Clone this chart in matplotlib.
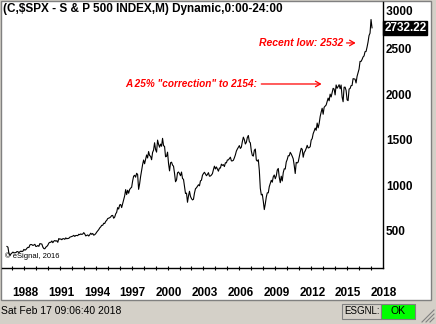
import numpy as np
import matplotlib
matplotlib.use("Agg")
import matplotlib.pyplot as plt
from matplotlib.patches import Rectangle
from matplotlib.lines import Line2D

# S&P 500 monthly closes, Aug 1987 .. Feb 2018
start_year, start_month = 1987, 8
closes_1980s = [329.8, 321.8, 251.8, 230.3, 247.1,
                257.1, 267.8, 258.9, 261.3, 262.2, 273.5, 272.0, 261.5, 271.9, 278.9, 273.7, 277.7,
                297.5, 288.9, 294.9, 309.6, 320.5, 317.9, 346.1, 351.5, 349.2, 340.4, 346.0, 353.4]
closes_1990s = [329.1, 331.9, 339.9, 330.8, 361.2, 358.0, 356.2, 322.6, 306.1, 304.0, 322.2, 330.2,
                343.9, 367.1, 375.2, 375.3, 389.8, 371.2, 387.8, 395.4, 387.9, 392.5, 375.2, 417.1,
                408.8, 412.7, 403.7, 414.9, 415.4, 408.1, 424.2, 414.0, 417.8, 418.7, 431.4, 435.7,
                438.8, 443.4, 451.7, 440.2, 450.2, 450.5, 448.1, 463.6, 458.9, 467.8, 461.8, 466.5,
                481.6, 467.1, 445.8, 450.9, 456.5, 444.3, 458.3, 475.5, 462.7, 472.4, 453.7, 459.3,
                470.4, 487.4, 500.7, 514.7, 533.4, 544.8, 562.1, 561.9, 584.4, 581.5, 605.4, 615.9,
                636.0, 640.4, 645.5, 654.2, 669.1, 670.6, 639.9, 652.0, 687.3, 705.3, 757.0, 740.7,
                786.2, 790.8, 757.1, 801.3, 848.3, 885.1, 954.3, 899.5, 947.3, 914.6, 955.4, 970.4,
                980.3, 1049.3, 1101.8, 1111.8, 1090.8, 1133.8, 1120.7, 957.3, 1017.0, 1098.7, 1163.6, 1229.2,
                1279.6, 1238.3, 1286.4, 1335.2, 1301.8, 1372.7, 1328.7, 1320.4, 1282.7, 1362.9, 1388.9, 1469.3]
closes_2000s = [1394.5, 1366.4, 1498.6, 1452.4, 1420.6, 1454.6, 1430.8, 1517.7, 1436.5, 1429.4, 1315.2, 1320.3,
                1366.0, 1239.9, 1160.3, 1249.5, 1255.8, 1224.4, 1211.2, 1133.6, 1040.9, 1059.8, 1139.5, 1148.1,
                1130.2, 1106.7, 1147.4, 1076.9, 1067.1, 989.8, 911.6, 916.1, 815.3, 885.8, 936.3, 879.8,
                855.7, 841.2, 848.2, 916.9, 963.6, 974.5, 990.3, 1008.0, 996.0, 1050.7, 1058.2, 1111.9,
                1131.1, 1144.9, 1126.2, 1107.3, 1120.7, 1140.8, 1101.7, 1104.2, 1114.6, 1130.2, 1173.8, 1211.9,
                1181.3, 1203.6, 1180.6, 1156.9, 1191.5, 1191.3, 1234.2, 1220.3, 1228.8, 1207.0, 1249.5, 1248.3,
                1280.1, 1280.7, 1294.9, 1310.6, 1270.1, 1270.2, 1276.7, 1303.8, 1335.9, 1377.9, 1400.6, 1418.3,
                1438.2, 1406.8, 1420.9, 1482.4, 1530.6, 1503.4, 1455.3, 1474.0, 1526.8, 1549.4, 1481.1, 1468.4,
                1378.6, 1330.6, 1322.7, 1385.6, 1400.4, 1280.0, 1267.4, 1282.8, 1166.4, 968.8, 896.2, 903.3,
                825.9, 735.1, 797.9, 872.8, 919.1, 919.3, 987.5, 1020.6, 1057.1, 1036.2, 1095.6, 1115.1]
closes_2010s = [1073.9, 1104.5, 1169.4, 1186.7, 1089.4, 1030.7, 1101.6, 1049.3, 1141.2, 1183.3, 1180.6, 1257.6,
                1286.1, 1327.2, 1325.8, 1363.6, 1345.2, 1320.6, 1292.3, 1218.9, 1131.4, 1253.3, 1247.0, 1257.6,
                1312.4, 1365.7, 1408.5, 1397.9, 1310.3, 1362.2, 1379.3, 1406.6, 1440.7, 1412.2, 1416.2, 1426.2,
                1498.1, 1514.7, 1569.2, 1597.6, 1630.7, 1606.3, 1685.7, 1633.0, 1681.6, 1756.5, 1805.8, 1848.4,
                1782.6, 1859.5, 1872.3, 1884.0, 1923.6, 1960.2, 1930.7, 2003.4, 1972.3, 2018.1, 2067.6, 2058.9,
                1995.0, 2104.5, 2067.9, 2085.5, 2107.4, 2063.1, 2103.8, 1972.2, 1920.0, 2079.4, 2080.4, 2043.9,
                1940.2, 1932.2, 2059.7, 2065.3, 2097.0, 2098.9, 2173.6, 2171.0, 2168.3, 2126.2, 2198.8, 2238.8,
                2278.9, 2363.6, 2362.7, 2384.2, 2411.8, 2423.4, 2470.3, 2471.7, 2519.4, 2575.3, 2647.6, 2673.6,
                2823.8, 2732.22]

y_ticks = [500, 1000, 1500, 2000, 2500]
year_labels = list(range(1988, 2019, 3))
title = r"(C,\$SPX - S & P 500 INDEX,M) Dynamic,0:00-24:00"
note_low = "Recent low: 2532"
note_corr = 'A 25% "correction" to 2154:'
status = "Sat Feb 17 09:06:40 2018"

closes = np.array(closes_1980s + closes_1990s + closes_2000s + closes_2010s)
months = np.arange(len(closes)) + (start_month - 1)
dates = start_year + months / 12.0

W, H = 436, 324
def px(x, y, w=0, h=0):
    # pixel box (top-left origin) -> figure fraction
    return x / W, 1 - (y + h) / H, w / W, h / H

plt.rcParams['font.family'] = ['Liberation Sans', 'DejaVu Sans']
fig = plt.figure(figsize=(W / 100, H / 100), dpi=100)
fig.patch.set_facecolor('#D4D0C8')

x0, y0, w0, h0 = px(1, 1, 430, 299)
fig.add_artist(Rectangle((x0, y0), w0, h0, transform=fig.transFigure,
                         facecolor='white', edgecolor='#808080', lw=1, zorder=-5))

ax = fig.add_axes(px(2, 2, 381, 266))
ax.set_facecolor('none')
ax.plot(dates, closes, color='black', lw=0.8)
ax.set_xlim(1987.17, 2019.0)
ax.set_ylim(93, 3016)

for s in ['top', 'left']:
    ax.spines[s].set_visible(False)
for s in ['right', 'bottom']:
    ax.spines[s].set_linewidth(1)

ax.yaxis.tick_right()
ax.set_yticks(y_ticks)
ax.tick_params(axis='y', length=0, pad=2, labelsize=8.5)
for lab in ax.get_yticklabels():
    lab.set_fontweight('bold')
ax.text(1.0, 2975, ' 3000', transform=ax.get_yaxis_transform(), ha='left', va='top',
        fontsize=8.5, fontweight='bold')

ax.set_xticks(year_labels)
ax.set_xticks(np.arange(1988, 2019), minor=True)
ax.set_xticklabels([str(y) for y in year_labels], fontsize=8.5, fontweight='bold', ha='left')
ax.tick_params(axis='x', which='both', direction='inout', length=3, width=0.8, pad=12)

# last value tag
last = closes[-1]
ax.text(1.003, last, f'{last:.2f}', transform=ax.get_yaxis_transform(), ha='left', va='center',
        fontsize=8.5, fontweight='bold', color='white',
        bbox=dict(boxstyle='square,pad=0.08', facecolor='black', edgecolor='black'))

ax.text(0.003, 0.995, title, transform=ax.transAxes, ha='left', va='top',
        fontsize=8.5, fontweight='bold')
ax.text(0.008, 0.045, '\u00a9 eSignal, 2016', transform=ax.transAxes, ha='left', va='center',
        fontsize=5.5)

red = '#FF0000'
ax.text(2015.66, 2566, note_low, color=red, fontsize=7.5, fontweight='bold', style='italic',
        ha='right', va='center')
ax.annotate('', xy=(2016.95, 2566), xytext=(2015.72, 2566),
            arrowprops=dict(arrowstyle='->,head_length=0.35,head_width=0.2', color=red, lw=0.9))
ax.text(2008.48, 2115, note_corr, color=red, fontsize=7.2, fontweight='bold', style='italic',
        ha='right', va='center')
ax.annotate('', xy=(2014.1, 2115), xytext=(2008.6, 2115),
            arrowprops=dict(arrowstyle='->,head_length=0.35,head_width=0.2', color=red, lw=0.9))

# status bar
fig.text(1 / W, 1 - 311 / H, status, ha='left', va='center', fontsize=7.5, color='black')
bx, by, bw, bh = px(342, 304, 39, 15)
fig.add_artist(Rectangle((bx, by), bw, bh, transform=fig.transFigure,
                         facecolor='#D4D0C8', edgecolor='#808080', lw=0.8, zorder=-5))
fig.text((342 + 19.5) / W, 1 - 311.5 / H, 'ESGNL:', ha='center', va='center', fontsize=7)
gx, gy, gw, gh = px(381, 304, 34, 15)
fig.add_artist(Rectangle((gx, gy), gw, gh, transform=fig.transFigure,
                         facecolor='#00FF00', edgecolor='#808080', lw=0.8, zorder=-5))
fig.text(398 / W, 1 - 311.5 / H, 'OK', ha='center', va='center', fontsize=7.5)
for k in range(3):
    off = 4 * k
    fig.add_artist(Line2D([(422 + off) / W, 434 / W], [1 - 322 / H, 1 - (322 - 12 + off) / H],
                          transform=fig.transFigure, color='#808080', lw=0.8))

fig.savefig('out.png', dpi=100, facecolor=fig.get_facecolor())
